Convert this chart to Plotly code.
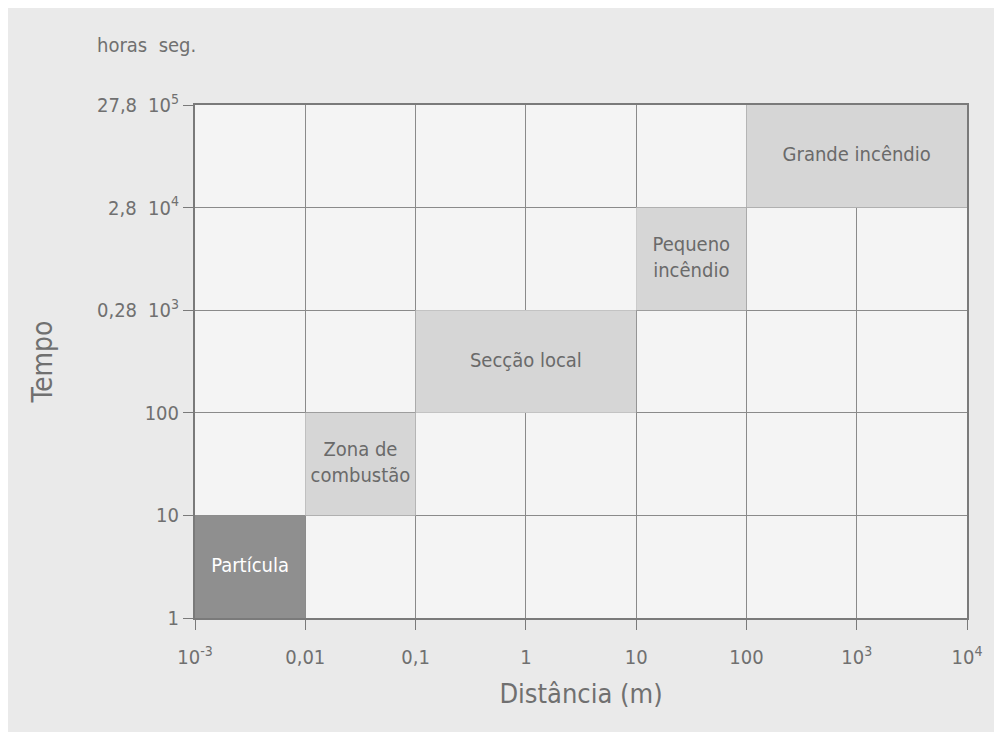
import math
import plotly.graph_objects as go

# Data
x_ticks = [1e-3, 1e-2, 1e-1, 1, 10, 100, 1e3, 1e4]
x_ticktext = ["10<sup>-3</sup>", "0,01", "0,1", "1", "10", "100", "10<sup>3</sup>", "10<sup>4</sup>"]
y_ticks = [1, 10, 100, 1e3, 1e4, 1e5]
y_ticktext = ["1", "10", "100", "10<sup>3</sup>", "10<sup>4</sup>", "10<sup>5</sup>"]
horas_vals = [1e3, 1e4, 1e5]
horas_text = ["0,28", "2,8", "27,8"]

regions = ["Partícula", "Zona de<br>combustão", "Secção local", "Pequeno<br>incêndio", "Grande incêndio"]
x_lo = [1e-3, 1e-2, 1e-1, 10, 100]
x_hi = [1e-2, 1e-1, 10, 100, 1e4]
y_lo = [1, 10, 100, 1e3, 1e4]
y_hi = [10, 100, 1e3, 1e4, 1e5]
fills = ["#8f8f8f", "#d6d6d6", "#d6d6d6", "#d6d6d6", "#d6d6d6"]
text_colors = ["#ffffff", "#6a6a6a", "#6a6a6a", "#6a6a6a", "#6a6a6a"]

FONT = "DejaVu Sans Condensed, Roboto, sans-serif"
TXT = "#707070"
fig = go.Figure()

for name, x0, x1, y0, y1, fc, tc in zip(regions, x_lo, x_hi, y_lo, y_hi, fills, text_colors):
    fig.add_trace(go.Scatter(
        x=[x0, x1, x1, x0, x0], y=[y0, y0, y1, y1, y0],
        mode="lines", fill="toself", fillcolor=fc,
        line=dict(width=0), hoverinfo="skip", showlegend=False))
    xc = (x0 * x1) ** 0.5
    yc = (y0 * y1) ** 0.5
    fig.add_trace(go.Scatter(
        x=[xc], y=[yc], mode="text", text=[name],
        textfont=dict(family=FONT, size=20, color=tc),
        hoverinfo="skip", showlegend=False))

fig.update_layout(
    width=986, height=724,
    margin=dict(l=187, r=17, t=97, b=114),
    paper_bgcolor="#eaeaea", plot_bgcolor="#f4f4f4",
    font=dict(family=FONT, color=TXT),
    xaxis=dict(type="log", range=[-3, 4], tickvals=x_ticks, ticktext=x_ticktext,
               showgrid=True, gridcolor="#8a8a8a", gridwidth=1,
               showline=True, linecolor="#7a7a7a", linewidth=2, mirror=True,
               ticks="outside", ticklen=10, tickcolor="#7a7a7a", ticklabelstandoff=10,
               tickfont=dict(size=20, color=TXT), zeroline=False,
               title=dict(text="Distância (m)", font=dict(size=27, color=TXT), standoff=16)),
    yaxis=dict(type="log", range=[0, 5], tickvals=y_ticks, ticktext=y_ticktext,
               showgrid=True, gridcolor="#8a8a8a", gridwidth=1,
               showline=True, linecolor="#7a7a7a", linewidth=2, mirror=True,
               ticks="outside", ticklen=10, tickcolor="#7a7a7a",
               tickfont=dict(size=20, color=TXT), zeroline=False,
               title=dict(text="Tempo", font=dict(size=28, color=TXT), standoff=84)),
)

for v, t in zip(horas_vals, horas_text):
    fig.add_annotation(x=0, xref="paper", xshift=-56, y=math.log10(v), yref="y",
                       text=t, showarrow=False, xanchor="right", yanchor="middle",
                       font=dict(family=FONT, size=20, color=TXT))

fig.add_annotation(x=0, xref="paper", xshift=-100, y=1, yref="paper", yshift=60,
                   text="horas  seg.", showarrow=False, xanchor="left", yanchor="middle",
                   font=dict(family=FONT, size=20, color=TXT))

fig.write_html("out.html")
